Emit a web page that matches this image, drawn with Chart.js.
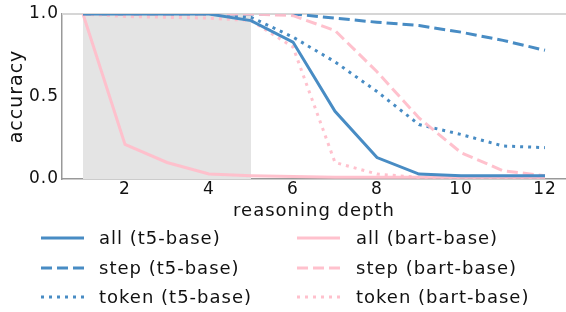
<!DOCTYPE html>
<html><head><meta charset="utf-8">
<script src="https://cdn.jsdelivr.net/npm/chart.js@4/dist/chart.umd.min.js"></script>
<style>html,body{margin:0;padding:0;background:#fff;}#wrap{width:566px;height:312px;}</style>
</head><body><div id="wrap"><canvas id="c" width="566" height="312"></canvas></div>
<script>
const depths = [1,2,3,4,5,6,7,8,9,10,11,12];
const xTicks = [2,4,6,8,10,12];
const yTicks = [0,0.5,1.0];
const t5All   = [1.00,1.00,1.00,1.00,0.96,0.83,0.41,0.13,0.03,0.02,0.02,0.02];
const t5Step  = [1.00,1.00,1.00,1.00,1.00,1.00,0.975,0.95,0.93,0.89,0.84,0.78];
const t5Token = [1.00,1.00,1.00,1.00,0.98,0.86,0.71,0.53,0.33,0.27,0.20,0.19];
const bartAll   = [1.00,0.21,0.10,0.03,0.02,0.015,0.01,0.01,0.01,0.01,0.01,0.01];
const bartStep  = [1.00,1.00,1.00,1.00,1.00,0.99,0.90,0.65,0.37,0.16,0.05,0.02];
const bartToken = [1.00,0.985,0.98,0.975,0.96,0.80,0.10,0.03,0.01,0.01,0.01,0.01];
const shadeRange = [1,5];
const labels = ['all (t5-base)','step (t5-base)','token (t5-base)','all (bart-base)','step (bart-base)','token (bart-base)'];

const BLUE = 'rgb(72,140,196)';
const PINK = 'rgba(255,190,202,0.95)';
const DASH = [11,5], DOT = [3,5];
const FONT = '"DejaVu Sans", sans-serif';

function ds(label, vals, color, dash, order){
  return {label, data: depths.map((d,i)=>({x:d,y:vals[i]})), borderColor: color, backgroundColor: color,
    borderWidth: 3, borderDash: dash, pointRadius: 0, tension: 0, fill:false, order};
}
const datasets = [
  ds(labels[0], t5All, BLUE, [], 1),
  ds(labels[1], t5Step, BLUE, DASH, 3),
  ds(labels[2], t5Token, BLUE, DOT, 3),
  ds(labels[3], bartAll, PINK, [], 4),
  ds(labels[4], bartStep, PINK, DASH, 2),
  ds(labels[5], bartToken, PINK, DOT, 2),
];

const spacingPlugin = {
  id:'spacing',
  beforeDraw(chart){ chart.ctx.letterSpacing = '1px'; }
};
const shadePlugin = {
  id:'shade',
  beforeDatasetsDraw(chart){
    const {ctx, chartArea:a, scales:{x}} = chart;
    const x0 = x.getPixelForValue(shadeRange[0]), x1 = x.getPixelForValue(shadeRange[1]);
    ctx.save(); ctx.fillStyle = '#e4e4e4'; ctx.fillRect(x0, a.top, x1-x0, a.bottom-a.top);
    ctx.strokeStyle = '#d6d6d6'; ctx.lineWidth = 2;
    ctx.beginPath(); ctx.moveTo(a.left, a.top); ctx.lineTo(a.right, a.top); ctx.stroke();
    ctx.restore();
  }
};
const legendPlugin = {
  id:'customLegend',
  afterDraw(chart){
    const ctx = chart.ctx;
    const rows = [238,268,297];
    const cols = [{x0:41,x1:84,tx:99},{x0:297,x1:340,tx:356}];
    ctx.save();
    ctx.letterSpacing = '1px';
    ctx.font = '18px ' + FONT; ctx.textBaseline = 'middle'; ctx.fillStyle = '#111';
    chart.data.datasets.forEach((d,i)=>{
      const c = cols[Math.floor(i/3)], y = rows[i%3];
      ctx.strokeStyle = d.borderColor; ctx.lineWidth = 3; ctx.setLineDash(d.borderDash);
      ctx.beginPath(); ctx.moveTo(c.x0,y); ctx.lineTo(c.x1,y); ctx.stroke();
      ctx.setLineDash([]);
      ctx.fillText(d.label, c.tx, y+1);
    });
    ctx.restore();
  }
};

new Chart(document.getElementById('c'), {
  type:'line',
  data:{datasets},
  options:{
    responsive:false, animation:false, devicePixelRatio:1,
    layout:{padding:{top:14,left:6,right:0,bottom:90}},
    plugins:{legend:{display:false}, tooltip:{enabled:false}},
    scales:{
      x:{type:'linear', min:0.5, max:12.5,
        afterBuildTicks(s){ s.ticks = xTicks.map(v=>({value:v})); },
        afterFit(s){ s.height = 43; },
        grid:{display:false, drawTicks:false}, border:{display:true,color:'#999',width:1.5},
        ticks:{color:'#111', font:{family:FONT,size:17}, padding:0, maxRotation:0, callback:v=>String(v)},
        title:{display:true, text:'reasoning depth', color:'#111', font:{family:FONT,size:18}, padding:{top:0,bottom:0}}
      },
      y:{type:'linear', min:0, max:1,
        afterBuildTicks(s){ s.ticks = yTicks.map(v=>({value:v})); },
        afterFit(s){ s.width = 56; },
        grid:{display:false, drawTicks:false}, border:{display:true,color:'#999',width:1.5},
        ticks:{color:'#111', font:{family:FONT,size:17}, padding:3, callback:v=>Number(v).toFixed(1)},
        title:{display:true, text:'accuracy', color:'#111', font:{family:FONT,size:19}, padding:{top:0,bottom:0}}
      }
    }
  },
  plugins:[spacingPlugin, shadePlugin, legendPlugin]
});
</script></body></html>
